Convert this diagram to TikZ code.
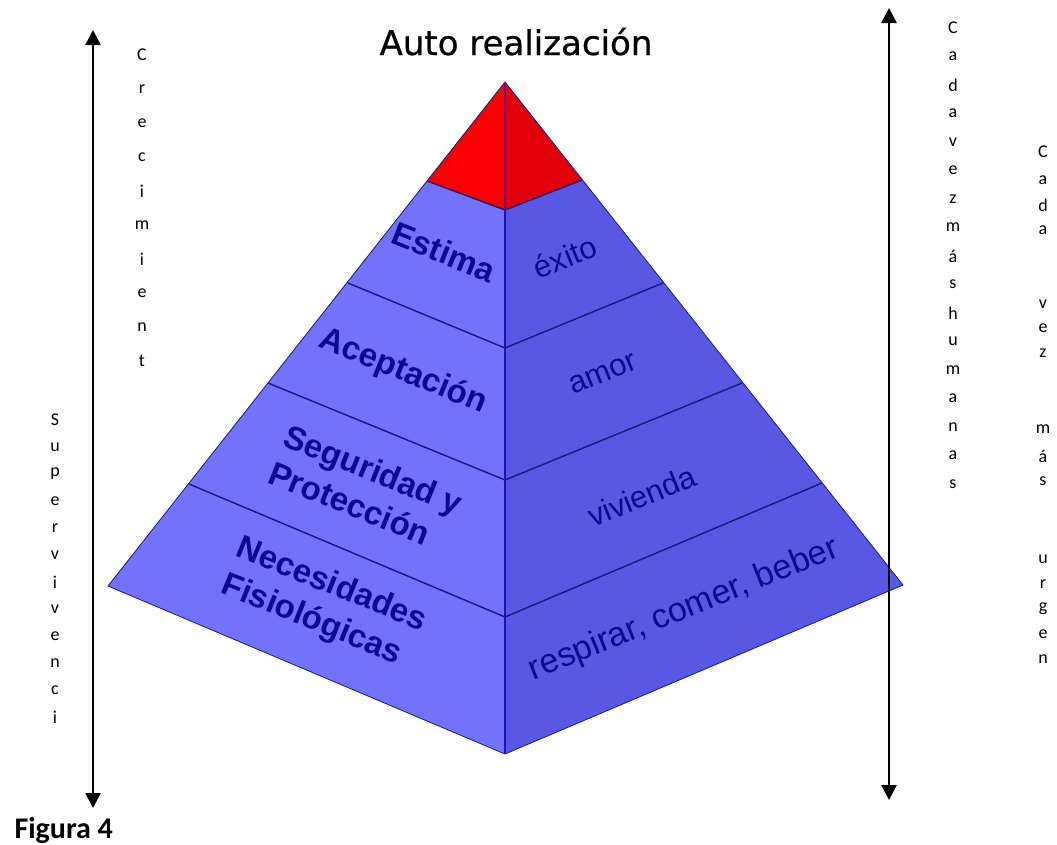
\documentclass[tikz,border=0pt]{standalone}
\usepackage{fontspec}
\usetikzlibrary{arrows.meta}
\setmainfont{Liberation Sans}
\newfontfamily\titlefont[FakeBold=0.7]{DejaVu Sans}
\newfontfamily\wordfont{Carlito}
\definecolor{faceleft}{RGB}{114,114,252}
\definecolor{faceright}{RGB}{88,88,228}
\definecolor{redleft}{RGB}{250,0,0}
\definecolor{redright}{RGB}{226,0,10}
\definecolor{lineblue}{RGB}{24,24,130}
\definecolor{spineblue}{RGB}{20,20,200}
\definecolor{labelblue}{RGB}{10,10,150}
\tikzset{
  levelline/.style={draw=lineblue, line width=1.4pt},
  leftlabel/.style={text=labelblue, rotate=-22, font=\bfseries\fontsize{33}{40}\selectfont, align=left, inner sep=0pt},
  rightlabel/.style={text=labelblue, rotate=22, font=\fontsize{31}{36}\selectfont, inner sep=0pt},
  vletter/.style={font=\wordfont\fontsize{18}{18}\selectfont, inner sep=0pt},
  bothways/.style={line width=2.6pt, {Triangle[width=15pt,length=15pt]}-{Triangle[width=15pt,length=15pt]}},
}
\begin{document}
\begin{tikzpicture}[x=1pt,y=-1pt]
\useasboundingbox (0,0) rectangle (1057,844);

\coordinate (apex) at (505,82);
\coordinate (s1) at (505,210);
\coordinate (s2) at (505,348);
\coordinate (s3) at (505,480);
\coordinate (s4) at (505,617);
\coordinate (base) at (505,754);
\coordinate (l1) at (427,181);
\coordinate (l2) at (348,283);
\coordinate (l3) at (268,383);
\coordinate (l4) at (189,484);
\coordinate (lc) at (108,586);
\coordinate (r1) at (582,180);
\coordinate (r2) at (663,283);
\coordinate (r3) at (742,383);
\coordinate (r4) at (822,483);
\coordinate (rc) at (903,585);

\fill[faceleft] (apex) -- (lc) -- (base) -- cycle;
\fill[faceright] (apex) -- (base) -- (rc) -- cycle;
\fill[redleft] (apex) -- (l1) -- (s1) -- cycle;
\fill[redright] (apex) -- (s1) -- (r1) -- cycle;
\draw[lineblue, line width=0.8pt] (apex) -- (lc) -- (base) -- (rc) -- cycle;

\draw[levelline] (l1) -- (s1) -- (r1);
\draw[levelline] (l2) -- (s2) -- (r2);
\draw[levelline] (l3) -- (s3) -- (r3);
\draw[levelline] (l4) -- (s4) -- (r4);
\draw[spineblue, line width=1.6pt] (s1) -- (base);
\draw[spineblue!60!red, line width=1.4pt] (apex) -- (s1);

\node[font=\titlefont\fontsize{34}{34}\selectfont, anchor=base] (top) at (516,55) {Auto realización};

\node[leftlabel] (estima) at (444,252) {Estima};
\node[leftlabel] (acept) at (403,372) {Aceptación};
\node[leftlabel] (segur) at (366,488) {Seguridad y\\Protección};
\node[leftlabel] (necs) at (324,604) {Necesidades\\Fisiológicas};

\node[rightlabel] (exito) at (565,257) {éxito};
\node[rightlabel] (amor) at (603,374) {amor};
\node[rightlabel] (viv) at (642,496) {vivienda};
\node[rightlabel, font=\fontsize{34}{38}\selectfont] (resp) at (684,610) {respirar, comer, beber};

\coordinate (lefttop) at (93,30);
\coordinate (leftbot) at (93,808);
\coordinate (righttop) at (889,8);
\coordinate (rightbot) at (889,800);
\draw[bothways] (lefttop) -- (leftbot);
\draw[bothways] (righttop) -- (rightbot);

\foreach \ch [count=\i] in {C,r,e,c,i,m,i,e,n,t}
  \node[vletter] (crec-\i) at (142,{55+34*(\i-1)}) {\ch};
\foreach \ch [count=\i] in {S,u,p,e,r,v,i,v,e,n,c,i}
  \node[vletter] (superv-\i) at (55,{420+27*(\i-1)}) {\ch};
\foreach \ch [count=\i] in {C,a,d,a,v,e,z,m,á,s,h,u,m,a,n,a,s}
  \node[vletter] (human-\i) at (953,{28+28.5*(\i-1)}) {\ch};
\foreach \ch/\yy [count=\i] in {C/152,a/180,d/205,a/230,v/304,e/328,z/353,m/429,á/456,s/481,u/559,r/584,g/609,e/634,n/659}
  \node[vletter] (urgen-\i) at (1043,\yy) {\ch};

\node[font=\wordfont\bfseries\fontsize{30}{30}\selectfont, anchor=base west] (fig) at (11,838) {Figura 4};
\end{tikzpicture}
\end{document}
